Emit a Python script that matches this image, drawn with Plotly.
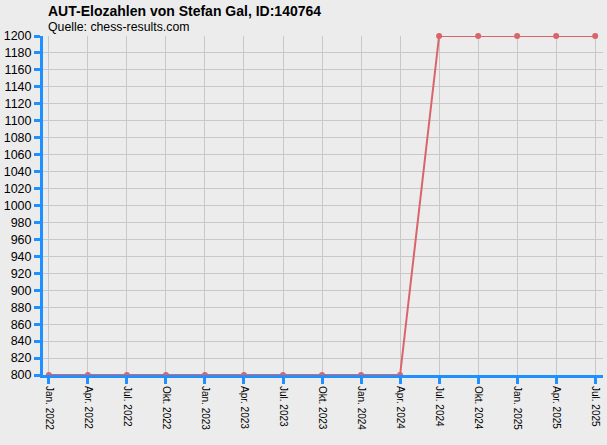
import plotly.graph_objects as go

monate = ["Jan. 2022", "Apr. 2022", "Jul. 2022", "Okt. 2022", "Jan. 2023", "Apr. 2023",
          "Jul. 2023", "Okt. 2023", "Jan. 2024", "Apr. 2024", "Jul. 2024", "Okt. 2024",
          "Jan. 2025", "Apr. 2025", "Jul. 2025"]
elo = [800, 800, 800, 800, 800, 800, 800, 800, 800, 800, 1200, 1200, 1200, 1200, 1200]
ytick_werte = list(range(800, 1201, 20))

blau = "#1E90FF"
rot = "#D9656B"

fig = go.Figure()
fig.add_trace(go.Scatter(
    x=monate, y=elo, mode="lines+markers",
    line=dict(color=rot, width=2),
    marker=dict(color=rot, size=6),
    cliponaxis=False,
    hoverinfo="x+y"
))

fig.update_layout(
    width=607, height=445,
    paper_bgcolor="#ECECEC", plot_bgcolor="#ECECEC",
    margin=dict(l=43, r=4, t=36, b=70, autoexpand=False),
    showlegend=False,
    font=dict(family="Liberation Sans, Arial, sans-serif", size=12, color="black"),
)

fig.update_xaxes(
    type="category", range=[-0.15, 14.2], automargin=False,
    tickangle=90, tickfont=dict(size=10),
    showgrid=True, gridcolor="#C8C8C8", gridwidth=1,
    showline=True, linecolor=blau, linewidth=3,
    ticks="outside", tickcolor=blau, ticklen=6, tickwidth=3,
    zeroline=False
)
fig.update_yaxes(
    range=[800, 1200], tickvals=ytick_werte, automargin=False,
    tickfont=dict(size=12.5),
    showgrid=True, gridcolor="#C8C8C8", gridwidth=1,
    showline=True, linecolor=blau, linewidth=3,
    ticks="outside", tickcolor=blau, ticklen=6, tickwidth=3,
    zeroline=False
)

fig.add_annotation(
    text="<b>AUT-Elozahlen von Stefan Gal, ID:140764</b>",
    xref="paper", yref="paper", x=0.0, y=1.0, xanchor="left", yanchor="bottom",
    xshift=3, yshift=15, showarrow=False, font=dict(size=14)
)
fig.add_annotation(
    text="Quelle: chess-results.com",
    xref="paper", yref="paper", x=0.0, y=1.0, xanchor="left", yanchor="bottom",
    xshift=3, yshift=0, showarrow=False, font=dict(size=12.3)
)

# Standardrand des Browsers entfernen
fig.write_html("out.html", config={"displayModeBar": False},
               post_script="document.body.style.margin='0';")
